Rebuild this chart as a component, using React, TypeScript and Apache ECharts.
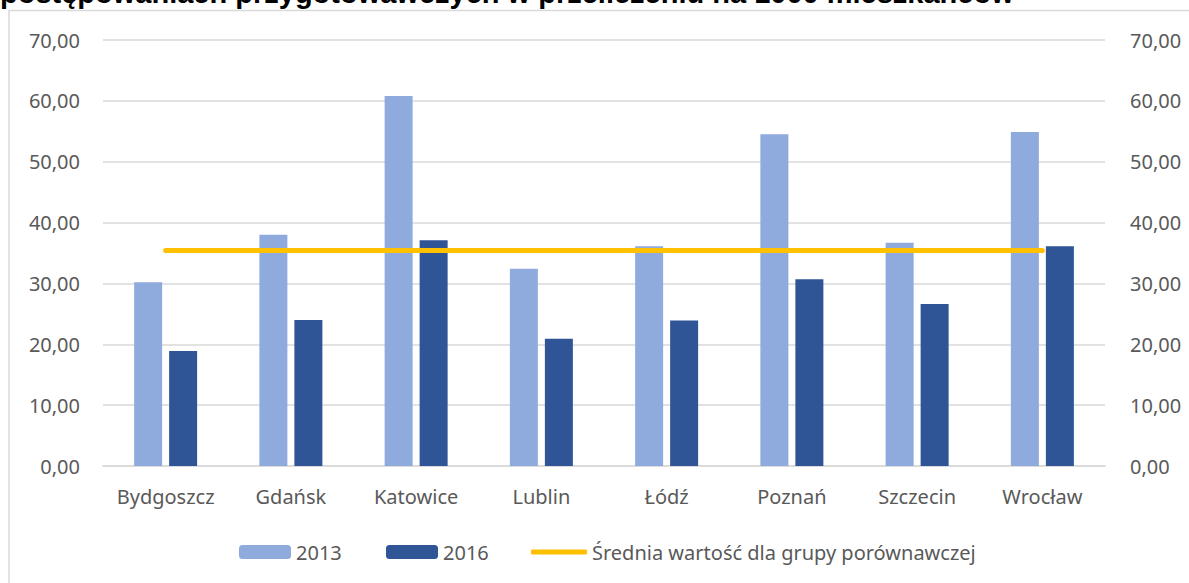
import React, { useEffect, useRef } from "react";
import * as echarts from "echarts";

const categories = ["Bydgoszcz", "Gdańsk", "Katowice", "Lublin", "Łódź", "Poznań", "Szczecin", "Wrocław"];
const values2013 = [30.2, 38.0, 60.8, 32.4, 36.1, 54.5, 36.7, 54.9];
const values2016 = [18.9, 24.0, 37.1, 20.9, 23.9, 30.7, 26.6, 36.1];
const averageValues = [35.4, 35.4, 35.4, 35.4, 35.4, 35.4, 35.4, 35.4];
const seriesNames = ["2013", "2016", "Średnia wartość dla grupy porównawczej"];
const titleText = "postępowaniach przygotowawczych w przeliczeniu na 1000 mieszkańców";

const FONT = "'Noto Sans', 'Open Sans', sans-serif";
const fmt = (v: number) => v.toFixed(2).replace(".", ",");

export default function App() {
  const ref = useRef<HTMLDivElement>(null);
  useEffect(() => {
    if (!ref.current) return;
    const chart = echarts.init(ref.current, null, { renderer: "svg" });
    const axisLabel = { fontSize: 20, color: "#595959", fontFamily: FONT, formatter: fmt };
    const legendCommon = {
      top: 537,
      itemWidth: 52,
      itemHeight: 14,
      textStyle: { fontSize: 20, color: "#595959", fontFamily: FONT },
      itemGap: 0,
    };
    chart.setOption({
      animation: false,
      backgroundColor: "#ffffff",
      graphic: [
        {
          type: "rect",
          shape: { x: 9, y: 10.5, width: 1200, height: 600 },
          style: { fill: "none", stroke: "#d9d9d9", lineWidth: 1.5 },
          silent: true,
        },
        {
          type: "text",
          x: 0,
          y: -7,
          style: {
            text: titleText,
            font: "bold 29px 'Liberation Sans', Arial, sans-serif",
            fill: "#000000",
            verticalAlign: "middle",
            align: "left",
          },
          silent: true,
        },
      ],
      grid: { left: 103, right: 84, top: 40, bottom: 117, containLabel: false },
      legend: [
        { ...legendCommon, left: 234, data: [seriesNames[0]] },
        { ...legendCommon, left: 381, data: [seriesNames[1]] },
        {
          ...legendCommon,
          left: 526,
          itemWidth: 56,
          itemHeight: 5,
          data: [{ name: seriesNames[2], icon: "roundRect" }],
        },
      ],
      xAxis: {
        type: "category",
        data: categories,
        axisTick: { show: false },
        axisLine: { lineStyle: { color: "#d9d9d9", width: 1.5 } },
        axisLabel: { fontSize: 20, color: "#595959", fontFamily: FONT, margin: 20, interval: 0 },
      },
      yAxis: [
        {
          type: "value",
          min: 0,
          max: 70,
          interval: 10,
          position: "left",
          axisLine: { show: false },
          axisTick: { show: false },
          axisLabel: { ...axisLabel, margin: 23 },
          splitLine: { lineStyle: { color: "#d9d9d9", width: 1.5 } },
        },
        {
          type: "value",
          min: 0,
          max: 70,
          interval: 10,
          position: "right",
          axisLine: { show: false },
          axisTick: { show: false },
          axisLabel: { ...axisLabel, margin: 25 },
          splitLine: { show: false },
        },
      ],
      series: [
        {
          name: seriesNames[0],
          type: "bar",
          data: values2013,
          barWidth: 28,
          barGap: "25%",
          itemStyle: { color: "#8faadc" },
        },
        {
          name: seriesNames[1],
          type: "bar",
          data: values2016,
          barWidth: 28,
          barGap: "25%",
          itemStyle: { color: "#2f5597" },
        },
        {
          name: seriesNames[2],
          type: "line",
          data: averageValues,
          symbol: "none",
          lineStyle: { color: "#ffc000", width: 5, cap: "round" },
          itemStyle: { color: "#ffc000" },
          z: 5,
        },
      ],
    });
    return () => chart.dispose();
  }, []);
  return (
    <div
      ref={ref}
      style={{ position: "fixed", left: 0, top: 0, width: 1189, height: 583 }}
    />
  );
}
